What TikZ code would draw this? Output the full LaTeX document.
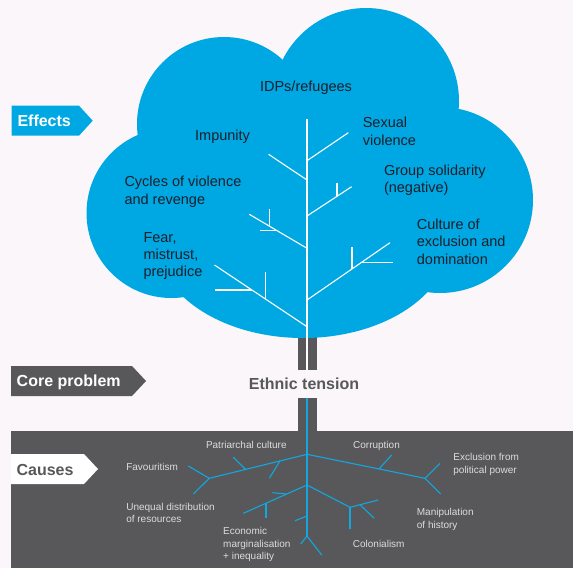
\documentclass[tikz,border=0pt]{standalone}
\usepackage{fontspec}
\setmainfont{Liberation Sans}
\definecolor{bgcol}{HTML}{FAF6FA}
\definecolor{cloudblue}{HTML}{00A8E3}
\definecolor{rootblue}{HTML}{12A7E0}
\definecolor{soil}{HTML}{58585A}
\definecolor{cloudink}{HTML}{1B1F2A}
\definecolor{causeink}{HTML}{DCDCDC}
\tikzset{
  cloudtext/.style={font=\fontsize{14.5}{17.3}\selectfont, text=cloudink, inner sep=0pt, align=left},
  causetext/.style={font=\fontsize{10}{12.2}\selectfont, text=causeink, inner sep=0pt, align=left},
  headtext/.style={font=\bfseries\fontsize{16}{18}\selectfont, inner sep=0pt},
  twig/.style={draw=white, line width=1.1pt},
  rootline/.style={draw=rootblue, line width=1.1pt},
}
\begin{document}
\begin{tikzpicture}[x=1pt,y=-1pt]
\useasboundingbox (0,0) rectangle (573,568);
\fill[bgcol] (0,0) rectangle (573,568);
% ground and trunk
\fill[soil] (11,431) rectangle (573,568);
\fill[soil] (298,336) rectangle (316.5,370);
\fill[soil] (298,398) rectangle (316.5,432);
% cloud
\fill[cloudblue] (224,124) circle[radius=87pt];
\fill[cloudblue] (171.5,213) circle[radius=85pt];
\fill[cloudblue] (366,101) circle[radius=93pt];
\fill[cloudblue] (440,200) circle[radius=93pt];
\fill[cloudblue] (303,240) ellipse[x radius=147pt, y radius=98pt];
\fill[cloudblue] (175,124) rectangle (440,255);
% tree
\draw[twig] (307,119) -- (307,370);
\draw[twig] (307,160.7) -- (348.3,132.7);
\draw[twig] (307,180) -- (268.6,154.3);
\draw[twig] (307,216) -- (351.6,186.7);
\draw[twig] (337,196.3) -- (337,183);
\draw[twig] (307,248.3) -- (249.3,214.3);
\draw[twig] (269.4,226.2) -- (269.4,209);
\draw[twig] (277.1,230.7) -- (259.5,230.7);
\draw[twig] (307,326.7) -- (214.5,265);
\draw[twig] (265.7,299.2) -- (265.7,272.3);
\draw[twig] (252,290) -- (214.5,290);
\draw[twig] (307,300) -- (390,242.7);
\draw[twig] (352,268.9) -- (352,246.7);
\draw[twig] (361.6,262.3) -- (392.9,262.3);
% roots
\draw[rootline] (307,398) -- (307,536);
\draw[rootline] (307,454.3) -- (209.3,478.3);
\draw[rootline] (188.3,466) -- (209.3,478.3) -- (193.3,494);
\draw[rootline] (245.7,469.4) -- (233.3,457.3);
\draw[rootline] (280,460.9) -- (269.3,478.3);
\draw[rootline] (307,454.3) -- (425,478.3);
\draw[rootline] (440,463.3) -- (425,478.3) -- (440.7,494);
\draw[rootline] (379,468.9) -- (391.7,455);
\draw[rootline] (307,485) -- (243.3,513.3);
\draw[rootline] (286.7,494) -- (272.3,492.7);
\draw[rootline] (266,503.2) -- (266,518.3);
\draw[rootline] (307,485) -- (350,507.3) -- (378.3,500);
\draw[rootline] (350,507.3) -- (350,529);
\draw[rootline] (360,504.7) -- (374.3,518.3);
\draw[rootline] (307,516) -- (295,520.7);
\draw[rootline] (300.7,544) -- (307,536) -- (321.7,555);
% side labels
\fill[cloudblue] (11.7,105.7) -- (79,105.7) -- (92.7,120.7) -- (79,135.7) -- (11.7,135.7) -- cycle;
\node[headtext, text=white, anchor=base west] (effects) at (17.3,126) {Effects};
\fill[soil] (11,366) -- (132,366) -- (146,381) -- (132,396) -- (11,396) -- cycle;
\node[headtext, text=white, anchor=base west] (core) at (16.5,386.7) {Core problem};
\fill[white] (11,454) -- (84,454) -- (98,469) -- (84,484) -- (11,484) -- cycle;
\node[headtext, text=soil, anchor=base west] (causes) at (16.4,475.7) {Causes};
\node[headtext, text=soil, anchor=base] (ethnic) at (304,389.3) {Ethnic tension};
% effects
\node[cloudtext, anchor=base] (idps) at (306,91.7) {IDPs/refugees};
\node[cloudtext, anchor=base] (impunity) at (222.6,140.7) {Impunity};
\node[cloudtext, anchor=west] (sexual) at (362.6,131.3) {Sexual\\violence};
\node[cloudtext, anchor=west] (group) at (383.8,179.9) {Group solidarity\\(negative)};
\node[cloudtext, anchor=west] (cycles) at (124.3,191.8) {Cycles of violence\\and revenge};
\node[cloudtext, anchor=west] (culture) at (416.7,241.8) {Culture of\\exclusion and\\domination};
\node[cloudtext, anchor=west] (fear) at (143.3,256) {Fear,\\mistrust,\\prejudice};
% causes
\node[causetext, anchor=base] (patri) at (246.3,448.3) {Patriarchal culture};
\node[causetext, anchor=base] (corrupt) at (376.5,448.3) {Corruption};
\node[causetext, anchor=west] (exclusion) at (453.2,464.4) {Exclusion from\\political power};
\node[causetext, anchor=base west] (favour) at (126.1,470) {Favouritism};
\node[causetext, anchor=west] (unequal) at (126.1,513.2) {Unequal distribution\\of resources};
\node[causetext, anchor=west] (manip) at (416.7,519.4) {Manipulation\\of history};
\node[causetext, anchor=west] (econ) at (223,544.5) {Economic\\marginalisation\\+ inequality};
\node[causetext, anchor=base west] (colon) at (352.7,547.3) {Colonialism};
\end{tikzpicture}
\end{document}
